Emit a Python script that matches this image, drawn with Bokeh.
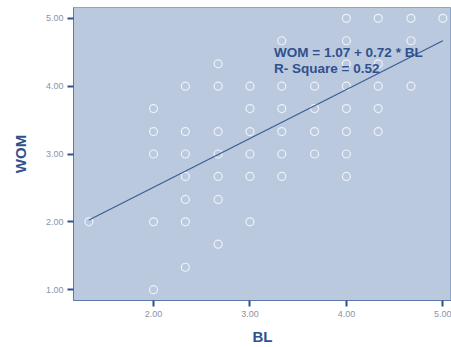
from bokeh.plotting import figure
from bokeh.models import Label, FixedTicker, ColumnDataSource
from bokeh.embed import file_html
from bokeh.resources import INLINE

# Data: BL (x) and WOM (y) scatter points
bl = [1.33,
      2.00, 2.00, 2.00, 2.00, 2.00,
      2.33, 2.33, 2.33, 2.33, 2.33, 2.33, 2.33,
      2.67, 2.67, 2.67, 2.67, 2.67, 2.67, 2.67,
      3.00, 3.00, 3.00, 3.00, 3.00, 3.00,
      3.33, 3.33, 3.33, 3.33, 3.33, 3.33,
      3.67, 3.67, 3.67, 3.67,
      4.00, 4.00, 4.00, 4.00, 4.00, 4.00, 4.00, 4.00,
      4.33, 4.33, 4.33, 4.33, 4.33,
      4.67, 4.67, 4.67,
      5.00]
wom = [2.00,
       3.67, 3.33, 3.00, 2.00, 1.00,
       4.00, 3.33, 3.00, 2.67, 2.33, 2.00, 1.33,
       4.33, 4.00, 3.33, 3.00, 2.67, 2.33, 1.67,
       4.00, 3.67, 3.33, 3.00, 2.67, 2.00,
       4.67, 4.00, 3.67, 3.33, 3.00, 2.67,
       4.00, 3.67, 3.33, 3.00,
       5.00, 4.67, 4.33, 4.00, 3.67, 3.33, 3.00, 2.67,
       5.00, 4.33, 4.00, 3.67, 3.33,
       5.00, 4.67, 4.00,
       5.00]
intercept = 1.07
slope = 0.72
r_square = 0.52
x_ticks = [2.00, 3.00, 4.00, 5.00]
y_ticks = [1.00, 2.00, 3.00, 4.00, 5.00]

p = figure(width=451, height=347, output_backend="svg", toolbar_location=None,
           x_range=(1.17, 5.09), y_range=(0.84, 5.16),
           min_border_left=73, min_border_top=7, min_border_right=0,
           min_border_bottom=47)

p.background_fill_color = "#bac9de"
p.border_fill_color = "white"
p.outline_line_color = "#8fa5c6"
p.outline_line_width = 1
p.xgrid.visible = False
p.ygrid.visible = False

src = ColumnDataSource(dict(x=bl, y=wom))
p.scatter("x", "y", source=src, size=8, fill_color=None,
          line_color="#eef2f8", line_width=1.2)

x0 = min(bl)
x1 = max(bl)
p.line([x0, x1], [intercept + slope * x0, intercept + slope * x1],
       line_color="#3b5c96", line_width=1.2)

for ax, ticks in ((p.xaxis[0], x_ticks), (p.yaxis[0], y_ticks)):
    ax.ticker = FixedTicker(ticks=ticks)
    ax.major_label_overrides = {t: f"{t:.2f}" for t in ticks}
    ax.minor_tick_line_color = None
    ax.axis_line_color = "#5a78a8"
    ax.major_tick_line_color = "#2f5190"
    ax.major_tick_line_width = 2
    ax.major_tick_out = 6
    ax.major_tick_in = 0
    ax.major_label_text_color = "#8a94a8"
    ax.major_label_text_font = "Liberation Sans"
    ax.major_label_text_font_size = "9px"
    ax.axis_label_text_color = "#2f5190"
    ax.axis_label_text_font = "Liberation Sans"
    ax.axis_label_text_font_style = "bold"
    ax.axis_label_text_font_size = "15px"

p.xaxis.axis_label = "BL"
p.yaxis.axis_label = "WOM"
p.xaxis.major_label_standoff = 4
p.xaxis.axis_label_standoff = 8
p.yaxis.major_label_standoff = 4
p.yaxis.axis_label_standoff = 14

lab1 = Label(x=3.25, y=4.50, text=f"WOM = {intercept:.2f} + {slope:.2f} * BL",
             text_font="Liberation Sans", text_font_style="bold",
             text_font_size="13.5px", text_color="#2f5190", text_baseline="middle")
lab2 = Label(x=3.25, y=4.26, text=f"R- Square = {r_square:.2f}",
             text_font="Liberation Sans", text_font_style="bold",
             text_font_size="13.5px", text_color="#2f5190", text_baseline="middle")
p.add_layout(lab1)
p.add_layout(lab2)

open("out.html", "w").write(file_html(p, INLINE))
